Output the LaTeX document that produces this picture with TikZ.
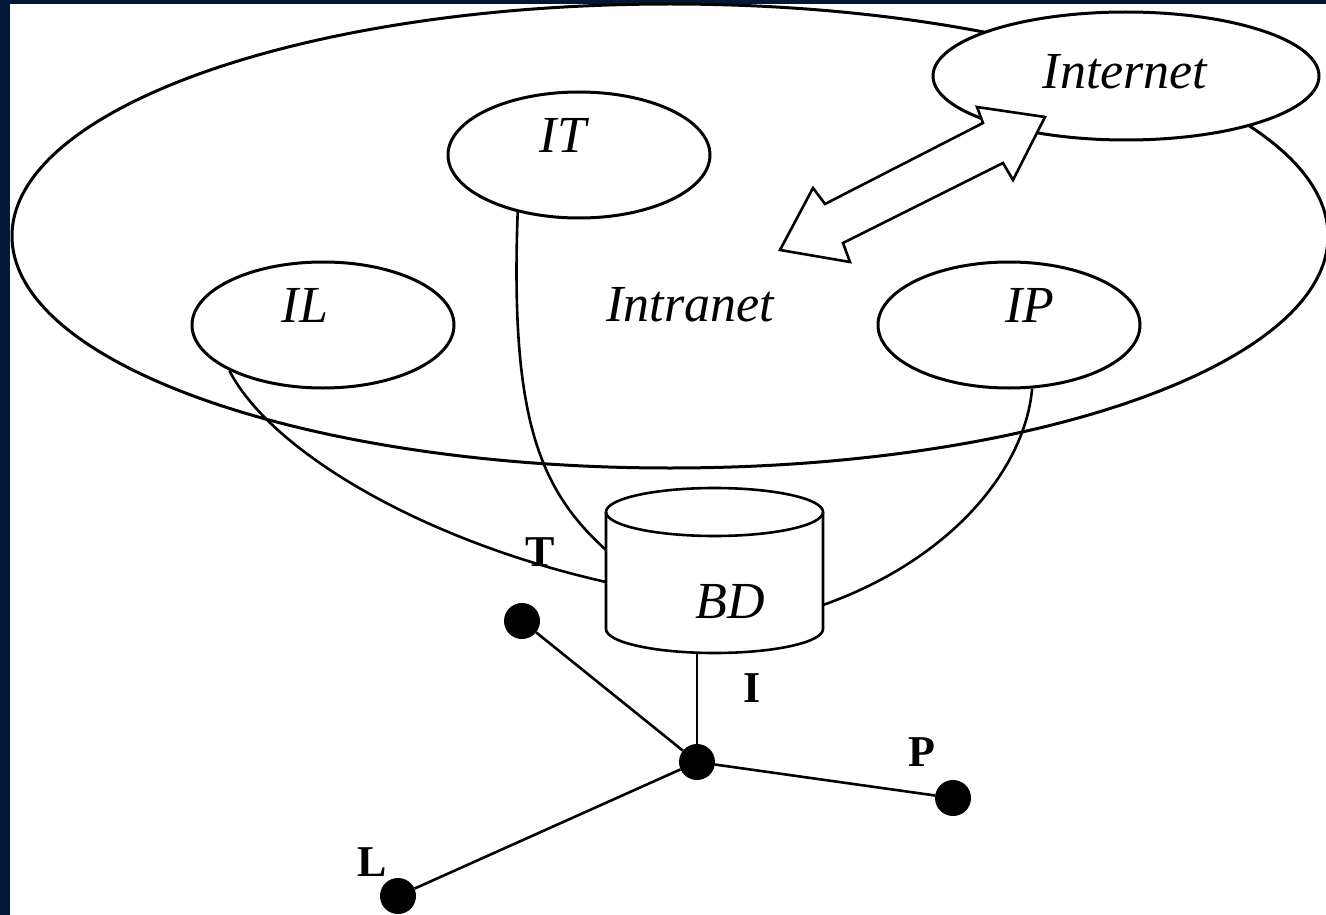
\documentclass[tikz,border=0pt]{standalone}
\usepackage{fontspec}
\setmainfont{Liberation Serif}
\usetikzlibrary{shapes.geometric}
\definecolor{navy}{RGB}{2,24,56}
\tikzset{
  line/.style={draw=black, line width=2.6pt},
  oval/.style={ellipse, draw=black, fill=white, line width=3pt, inner sep=0pt},
  lbl/.style={font=\fontsize{52}{54}\selectfont\itshape, inner sep=0pt},
  blbl/.style={font=\fontsize{44}{46}\selectfont\bfseries, inner sep=0pt},
  dot/.style={circle, fill=black, draw=none, minimum size=36pt, inner sep=0pt}
}
\begin{document}
\begin{tikzpicture}[x=1pt,y=-1pt]
\useasboundingbox (0,0) rectangle (1326,915);
\fill[navy] (0,0) rectangle (1326,915);
\fill[white] (10,4) rectangle (1326,915);
% big intranet ellipse
\node[oval, minimum width=1316pt, minimum height=464pt] (intra) at (670,236) {};
\node[oval, minimum width=386pt, minimum height=128pt] (inet) at (1126,76) {};
\node[lbl] (inettxt) at (1125,72) {Internet};
\node[oval, minimum width=262pt, minimum height=126pt] (it) at (579,155) {};
\node[lbl] at (563,135) {IT};
\node[oval, minimum width=262pt, minimum height=126pt] (il) at (323,325) {};
\node[lbl] at (305,305) {IL};
\node[oval, minimum width=262pt, minimum height=126pt] (ip) at (1009,325) {};
\node[lbl] at (1030,305) {IP};
\node[lbl] (intranettxt) at (690,305) {Intranet};
% double block arrow
\draw[line, fill=white, line join=miter] (780,250) -- (813,188) -- (825,204) -- (983,123) -- (977,107)
  -- (1045,117) -- (1013,180) -- (1003,163) -- (843,243) -- (850,262) -- cycle;
% cylinder
\draw[line, fill=white] (606,512) -- (606,629) arc[start angle=180, end angle=360, x radius=108.5pt, y radius=24pt] -- (823,512);
\draw[line] (714.5,512) ellipse[x radius=108.5pt, y radius=24pt];
\node[lbl] (bd) at (730,602) {BD};
\coordinate (bdL1) at (606,550);
\coordinate (bdL2) at (606,582);
\coordinate (bdR) at (823,605);
\coordinate (bdB) at (697,653);
% connectors
\draw[line] (it.223) .. controls (510,420) and (540,490) .. (bdL1);
\draw[line] (il.206) .. controls (270,450) and (420,540) .. (bdL2);
\draw[line] (ip.290) .. controls (1025,470) and (950,560) .. (bdR);
% star network
\node[dot] (hub) at (697,762) {};
\node[dot] (t) at (522,621) {};
\node[dot] (p) at (953,798) {};
\node[dot] (l) at (398,896) {};
\draw[line] (bdB) -- (hub);
\draw[line] (t) -- (hub);
\draw[line] (hub) -- (p);
\draw[line] (hub) -- (l);
\node[blbl] at (540,552) {T};
\node[blbl] at (752,688) {I};
\node[blbl] at (922,752) {P};
\node[blbl] at (372,862) {L};
\end{tikzpicture}
\end{document}
